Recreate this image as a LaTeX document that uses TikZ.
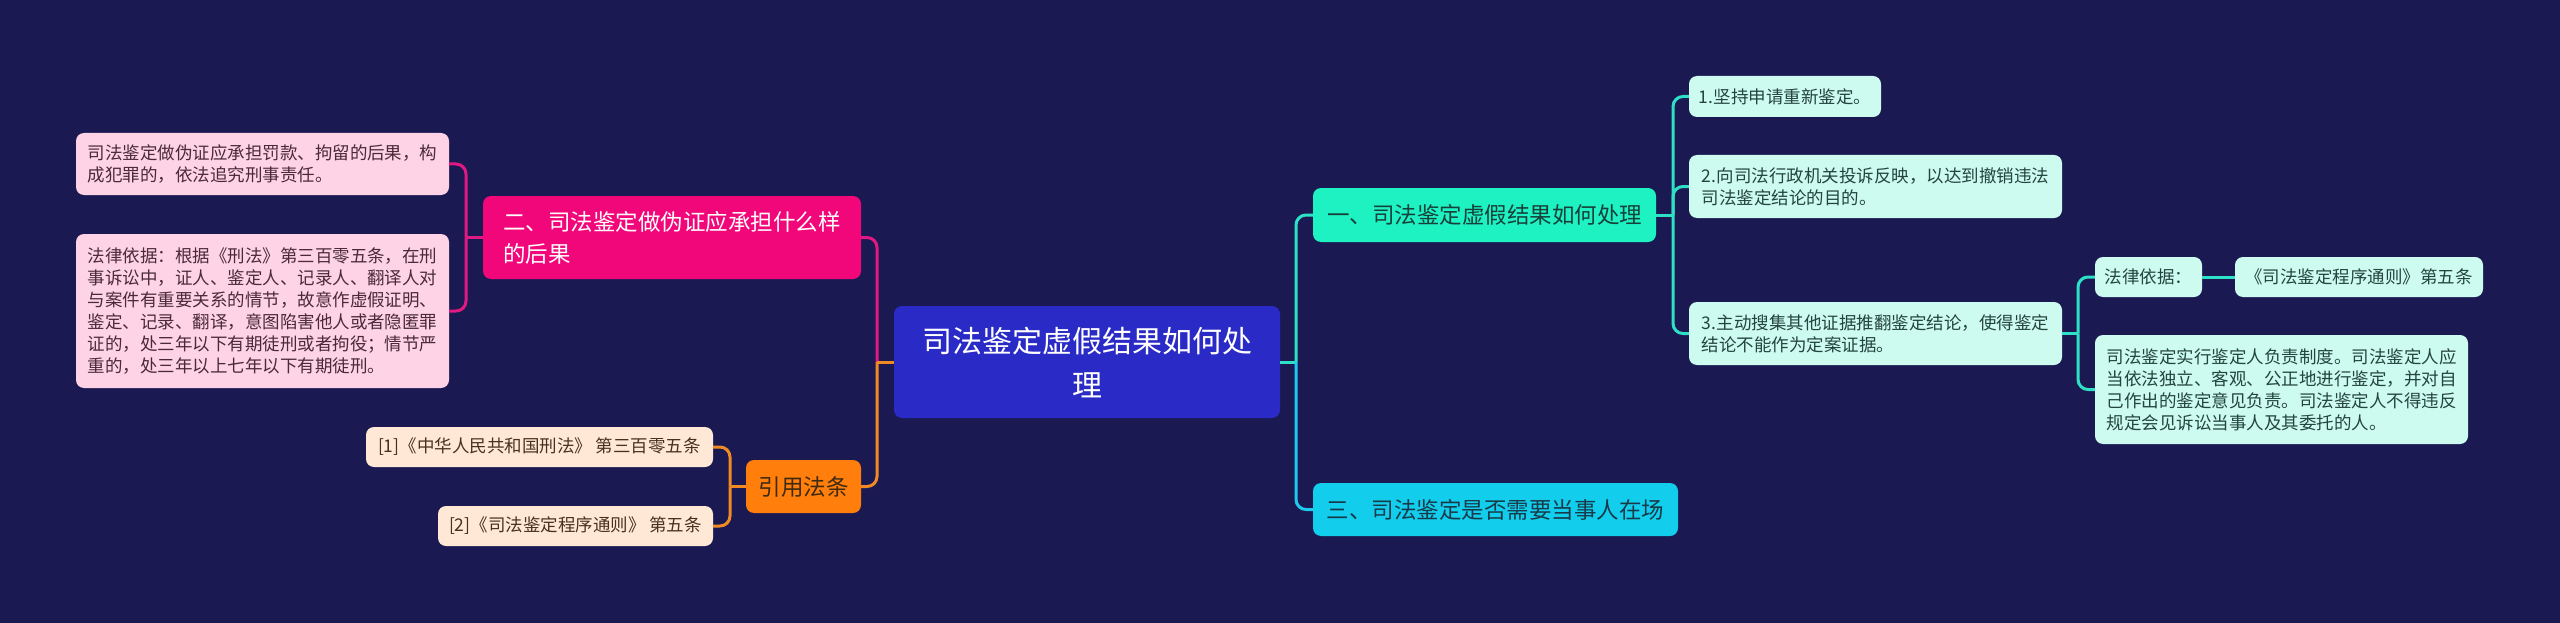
\documentclass[tikz,border=0pt]{standalone}
\usepackage{fontspec}
\setmainfont{Noto Sans CJK SC}
\definecolor{bg}{HTML}{1A1952}
\definecolor{rootc}{HTML}{2A2AC6}
\definecolor{magc}{HTML}{F2077A}
\definecolor{pinkleaf}{HTML}{FFD3E6}
\definecolor{pinkline}{HTML}{E01A82}
\definecolor{orc}{HTML}{FF7E0C}
\definecolor{peach}{HTML}{FFE9D6}
\definecolor{orline}{HTML}{F08A24}
\definecolor{tealc}{HTML}{1EF2C2}
\definecolor{cyanc}{HTML}{13CDED}
\definecolor{mint}{HTML}{CDFBEF}
\definecolor{tealline}{HTML}{2EE0C6}
\definecolor{cyanline}{HTML}{20C8EE}
\definecolor{pinktext}{HTML}{4A2A38}
\definecolor{peachtext}{HTML}{4A3020}
\definecolor{ortext}{HTML}{3D2A10}
\definecolor{tealtext}{HTML}{17403A}
\definecolor{cyantext}{HTML}{183A48}
\definecolor{minttext}{HTML}{24443F}
\tikzset{
  box/.style={rounded corners=8pt, inner sep=0pt, align=left},
  rootbox/.style={box, fill=rootc, text=white, align=center, font=\fontsize{30}{44}\selectfont},
  lvone/.style={box, font=\fontsize{22.5}{32}\selectfont},
  leaf/.style={box, font=\fontsize{17.5}{22}\selectfont},
  conn/.style={line width=3pt, rounded corners=10pt},
}
\begin{document}
\begin{tikzpicture}[x=1pt,y=-1pt]
\useasboundingbox (0,0) rectangle (2560,623);
\fill[bg] (0,0) rectangle (2560,623);

% root
\node[rootbox, minimum width=386pt, minimum height=112pt] (root) at (1087,362) {司法鉴定虚假结果如何处\\理};

% left branch
\node[lvone, fill=magc, text=white, minimum width=378pt, minimum height=83pt] (n2) at (672,237.5) {二、司法鉴定做伪证应承担什么样\\的后果};
\node[leaf, fill=pinkleaf, text=pinktext, minimum width=373pt, minimum height=62pt] (pa) at (262.5,164) {司法鉴定做伪证应承担罚款、拘留的后果，构\\成犯罪的，依法追究刑事责任。};
\node[leaf, fill=pinkleaf, text=pinktext, minimum width=373pt, minimum height=154pt] (pb) at (262.5,311) {法律依据：根据《刑法》第三百零五条，在刑\\事诉讼中，证人、鉴定人、记录人、翻译人对\\与案件有重要关系的情节，故意作虚假证明、\\鉴定、记录、翻译，意图陷害他人或者隐匿罪\\证的，处三年以下有期徒刑或者拘役；情节严\\重的，处三年以上七年以下有期徒刑。};

\node[lvone, fill=orc, text=ortext, minimum width=115pt, minimum height=53pt] (cite) at (803.5,486.5) {引用法条};
\node[leaf, fill=peach, text=peachtext, minimum width=347pt, minimum height=40pt] (c1) at (539.5,447) {[1]《中华人民共和国刑法》 第三百零五条};
\node[leaf, fill=peach, text=peachtext, minimum width=275pt, minimum height=40pt] (c2) at (575.5,526) {[2]《司法鉴定程序通则》 第五条};

% right branch
\node[lvone, fill=tealc, text=tealtext, minimum width=343pt, minimum height=54pt] (n1) at (1484.5,215) {一、司法鉴定虚假结果如何处理};
\node[lvone, fill=cyanc, text=cyantext, minimum width=365pt, minimum height=53pt] (n3) at (1495.5,509.5) {三、司法鉴定是否需要当事人在场};

\node[leaf, fill=mint, text=minttext, minimum width=192pt, minimum height=41pt] (l1) at (1785,96.5) {1.坚持申请重新鉴定。};
\node[leaf, fill=mint, text=minttext, minimum width=373pt, minimum height=63pt] (l2) at (1875.5,186.5) {2.向司法行政机关投诉反映，以达到撤销违法\\司法鉴定结论的目的。};
\node[leaf, fill=mint, text=minttext, minimum width=373pt, minimum height=63pt] (l3) at (1875.5,333.5) {3.主动搜集其他证据推翻鉴定结论，使得鉴定\\结论不能作为定案证据。};

\node[leaf, fill=mint, text=minttext, minimum width=107pt, minimum height=40pt] (law) at (2148.5,277) {法律依据：};
\node[leaf, fill=mint, text=minttext, minimum width=248pt, minimum height=40pt] (lawref) at (2359,277) {《司法鉴定程序通则》第五条};
\node[leaf, fill=mint, text=minttext, minimum width=373pt, minimum height=109pt] (big) at (2281.5,389.5) {司法鉴定实行鉴定人负责制度。司法鉴定人应\\当依法独立、客观、公正地进行鉴定，并对自\\己作出的鉴定意见负责。司法鉴定人不得违反\\规定会见诉讼当事人及其委托的人。};

% junction coordinates
\coordinate (jL) at (877,362);
\coordinate (jP) at (466,237.5);
\coordinate (jO) at (730,486.5);
\coordinate (jR) at (1296,362);
\coordinate (j1) at (1673,215);
\coordinate (j3) at (2078,333.5);

% left connectors
\draw[conn, pinkline] (n2.east) -| (jL);
\draw[conn, orline] (cite.east) -| (jL);
\draw[conn, orline] (root.west) -- (jL);
\draw[conn, pinkline] (n2.west) -- (jP);
\draw[conn, pinkline] (jP) |- (pa.east);
\draw[conn, pinkline] (jP) |- (pb.east);
\draw[conn, orline] (cite.west) -- (jO);
\draw[conn, orline] (jO) |- (c1.east);
\draw[conn, orline] (jO) |- (c2.east);

% right connectors
\draw[conn, tealline] (root.east) -- (jR);
\draw[conn, tealline] (jR) |- (n1.west);
\draw[conn, cyanline] (jR) |- (n3.west);
\draw[conn, tealline] (n1.east) -- (j1);
\draw[conn, tealline] (j1) |- (l1.west);
\draw[conn, tealline] (j1) |- (l2.west);
\draw[conn, tealline] (j1) |- (l3.west);
\draw[conn, tealline] (l3.east) -- (j3);
\draw[conn, tealline] (j3) |- (law.west);
\draw[conn, tealline] (j3) |- (big.west);
\draw[conn, tealline] (law.east) -- (lawref.west);
\end{tikzpicture}
\end{document}
